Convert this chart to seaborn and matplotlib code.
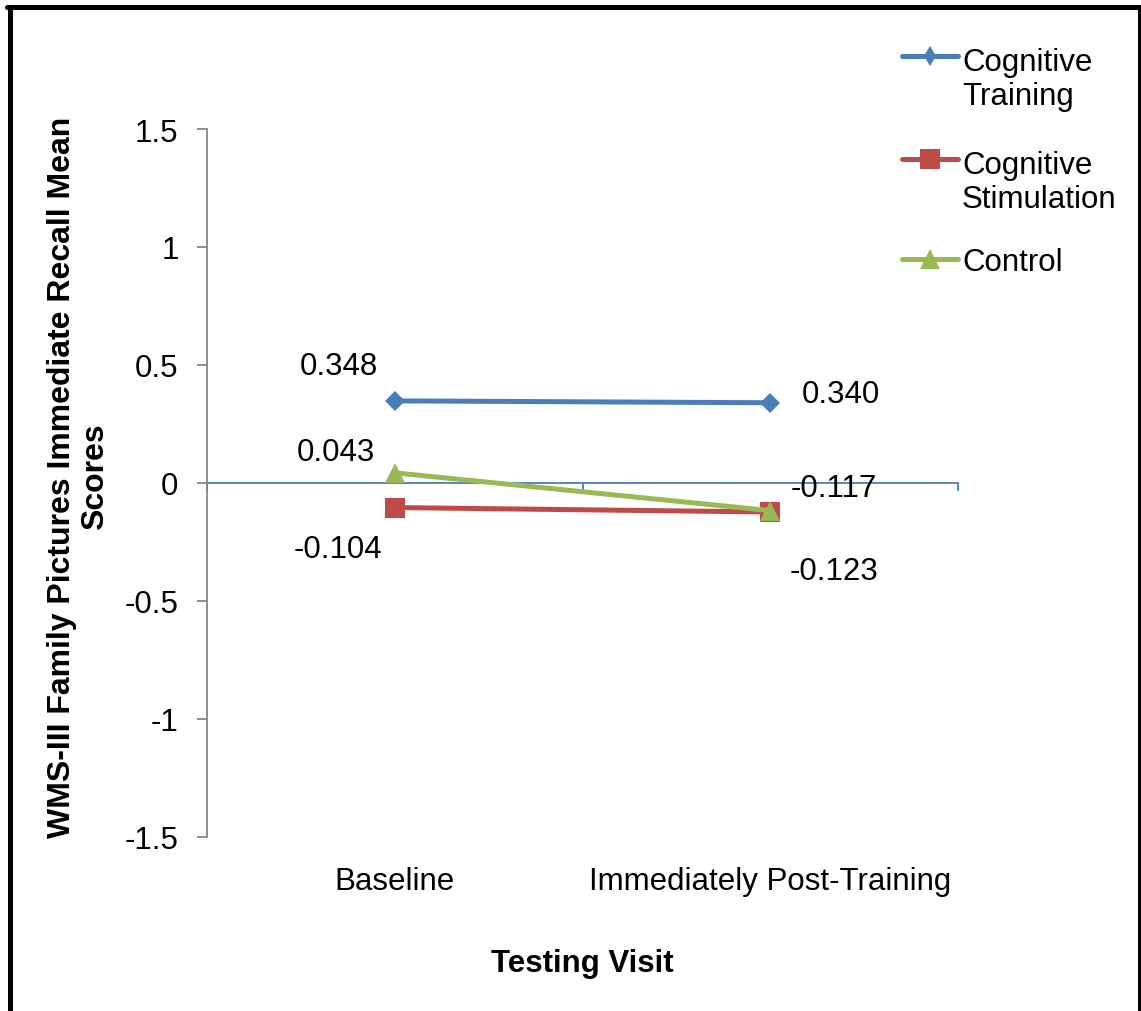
import matplotlib
matplotlib.use("Agg")
import matplotlib.pyplot as plt
import seaborn as sns
import pandas as pd
from matplotlib.lines import Line2D

visits = ["Baseline", "Immediately Post-Training"]
groups = ["Cognitive Training", "Cognitive Stimulation", "Control"]
legend_labels = ["Cognitive\nTraining", "Cognitive\nStimulation", "Control"]
training = [0.348, 0.340]
stimulation = [-0.104, -0.123]
control = [0.043, -0.117]
label_text = {
    "Cognitive Training": ["0.348", "0.340"],
    "Cognitive Stimulation": ["-0.104", "-0.123"],
    "Control": ["0.043", "-0.117"],
}
yticks = [-1.5, -1, -0.5, 0, 0.5, 1, 1.5]
ytick_labels = ["-1.5", "-1", "-0.5", "0", "0.5", "1", "1.5"]

W, H = 1141, 1012
FS = 22.5
PX = 0.72  # points per pixel at dpi 100
LINE_PITCH = FS / PX * 1.2  # pixels between text lines

colors = {"Cognitive Training": "#4a7ebb", "Cognitive Stimulation": "#be4b48", "Control": "#98b954"}
markers = {"Cognitive Training": "D", "Cognitive Stimulation": "s", "Control": "^"}
leg_markers = {"Cognitive Training": "d", "Cognitive Stimulation": "s", "Control": "^"}
msizes = {"Cognitive Training": 10.2, "Cognitive Stimulation": 14.4, "Control": 14.4}
# label offsets in pixels (dx, dy to baseline) per group per visit
offsets = {
    "Cognitive Training": [(-56, 27), (71, 1)],
    "Cognitive Stimulation": [(-57, -49), (64, -67)],
    "Control": [(-59, 13), (64, 15)],
}

rows = []
for g, vals in zip(groups, [training, stimulation, control]):
    for i, (v, val) in enumerate(zip(visits, vals)):
        rows.append({"Visit": v, "pos": i, "Group": g, "Score": val})
df = pd.DataFrame(rows)

sns.set_style("white")
plt.rcParams["font.family"] = ["Liberation Sans", "DejaVu Sans"]
plt.rcParams["text.color"] = "black"
plt.rcParams["axes.labelcolor"] = "black"

fig = plt.figure(figsize=(W / 100, H / 100), dpi=100)
ax = fig.add_axes([207 / W, 1 - 838 / H, (958 - 207) / W, (838 - 130) / H])

for g in groups:
    sub = df[df["Group"] == g]
    sns.lineplot(data=sub, x="pos", y="Score", ax=ax, color=colors[g], linewidth=3.6,
                 marker=markers[g], markersize=msizes[g], markeredgewidth=0,
                 legend=False, zorder=3)
    for i, row in enumerate(sub.itertuples()):
        dx, dy = offsets[g][i]
        ax.annotate(label_text[g][i], (row.pos, row.Score), xytext=(dx * PX, dy * PX),
                    textcoords="offset points", ha="center", va="baseline",
                    fontsize=FS, color="black", zorder=4)

ax.set_xlim(-0.5, 1.5)
ax.set_ylim(-1.5, 1.5)
ax.set_yticks(yticks)
ax.set_yticklabels(ytick_labels)
ax.set_xticks([0, 1])
ax.set_xticklabels(visits)

for s in ["top", "right", "bottom"]:
    ax.spines[s].set_visible(False)
ax.spines["left"].set_color("#868686")
ax.spines["left"].set_linewidth(1.3)
ax.tick_params(axis="y", which="major", direction="out", length=7.5, width=1.3,
               color="#868686", labelsize=FS, labelcolor="black", pad=13, left=True)
ax.tick_params(axis="x", which="major", length=0, labelsize=FS, labelcolor="black", pad=21)

# zero category axis (line at y = 0 with category boundary ticks pointing down)
sec = ax.secondary_xaxis(0.5)
sec.set_alignment("bottom")
for sp in sec.spines.values():
    sp.set_color("#4a7ebb")
    sp.set_linewidth(1.3)
sec.set_xticks([-0.5, 0.5, 1.5])
sec.set_xticklabels([])
sec.tick_params(axis="x", direction="out", length=5.5, width=1.3, color="#4a7ebb")

ax.set_xlabel("Testing Visit", fontsize=FS, fontweight="bold", labelpad=37, color="black")
ax.set_ylabel("WMS-III Family Pictures Immediate Recall Mean\nScores", fontsize=23,
              fontweight="bold", linespacing=1.15, color="black")
ax.yaxis.set_label_coords((110 - 207) / (958 - 207), 0.51)

# legend (handle aligned with first text line, as in the original)
handle_y = [57, 160, 260]
for g, lab, hy in zip(groups, legend_labels, handle_y):
    yf = 1 - hy / H
    fig.add_artist(Line2D([902 / W, 958 / W], [yf, yf], color=colors[g], linewidth=3.6,
                          solid_capstyle="round", transform=fig.transFigure))
    fig.add_artist(Line2D([930 / W], [yf], color=colors[g], linestyle="none",
                          marker=leg_markers[g], markersize=msizes[g], markeredgewidth=0,
                          transform=fig.transFigure))
    nlines = lab.count("\n") + 1
    base = hy + 11 + (nlines - 1) * LINE_PITCH
    fig.text(962 / W, 1 - base / H, lab, fontsize=FS, va="baseline", ha="left",
             linespacing=1.2, color="black")

# outer border
fig.add_artist(Line2D([9.5 / W, 9.5 / W], [0.0, 1 - 7.5 / H], color="black", linewidth=3.6,
                      transform=fig.transFigure))
fig.add_artist(Line2D([7 / W, 1140 / W], [1 - 7.5 / H, 1 - 7.5 / H], color="black", linewidth=3.6,
                      transform=fig.transFigure))
fig.add_artist(Line2D([1138.5 / W, 1138.5 / W], [0.0, 1 - 7.5 / H], color="black", linewidth=2.2,
                      transform=fig.transFigure))

fig.savefig("out.png", dpi=100, facecolor="white")
